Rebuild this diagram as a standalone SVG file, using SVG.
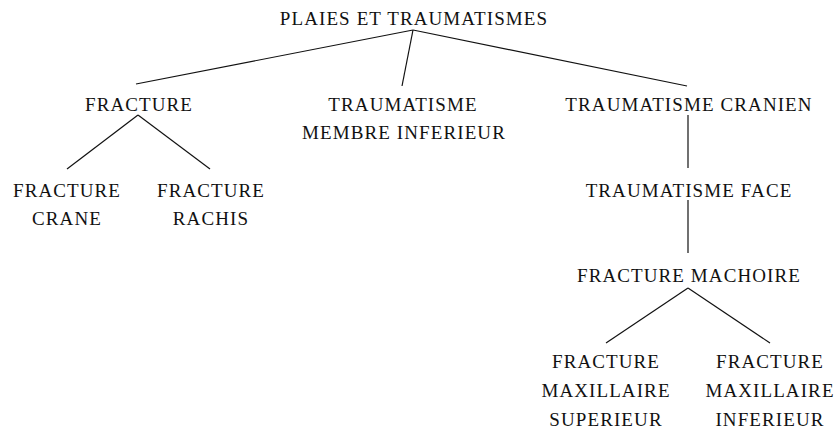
<svg xmlns="http://www.w3.org/2000/svg" width="836" height="429" viewBox="0 0 836 429">
<style>
text{font-family:"Liberation Serif","Times New Roman",serif;font-size:19px;fill:#111;text-anchor:middle;letter-spacing:1.1px}
.c line{stroke:#111;stroke-width:1.2;fill:none}
</style>
<rect width="836" height="429" fill="#fff"/>
<g class="c" id="connectors">
<line x1="413" y1="30" x2="136" y2="84"/>
<line x1="413" y1="30" x2="402" y2="86"/>
<line x1="413" y1="30" x2="687" y2="86"/>
<line x1="138" y1="115" x2="67" y2="169"/>
<line x1="138" y1="115" x2="210" y2="169"/>
<line x1="688" y1="115" x2="688" y2="168"/>
<line x1="688" y1="200" x2="688" y2="253"/>
<line x1="688" y1="288" x2="606" y2="343"/>
<line x1="688" y1="288" x2="770" y2="343"/>
</g>
<g id="root"><text x="414" y="24.5">PLAIES ET TRAUMATISMES</text></g>
<g id="fracture"><text x="139" y="110.5">FRACTURE</text></g>
<g id="tmi"><text x="403" y="110.5">TRAUMATISME</text><text x="404" y="139">MEMBRE INFERIEUR</text></g>
<g id="tc"><text x="689" y="110.5">TRAUMATISME CRANIEN</text></g>
<g id="fc"><text x="67" y="196.5">FRACTURE</text><text x="67" y="225">CRANE</text></g>
<g id="fr"><text x="211" y="196.5">FRACTURE</text><text x="211" y="225">RACHIS</text></g>
<g id="tf"><text x="689" y="196.5">TRAUMATISME FACE</text></g>
<g id="fm"><text x="689" y="282">FRACTURE MACHOIRE</text></g>
<g id="fms"><text x="606" y="368">FRACTURE</text><text x="606" y="397">MAXILLAIRE</text><text x="606" y="425.5">SUPERIEUR</text></g>
<g id="fmi"><text x="770" y="368">FRACTURE</text><text x="770" y="397">MAXILLAIRE</text><text x="770" y="425.5">INFERIEUR</text></g>
</svg>
